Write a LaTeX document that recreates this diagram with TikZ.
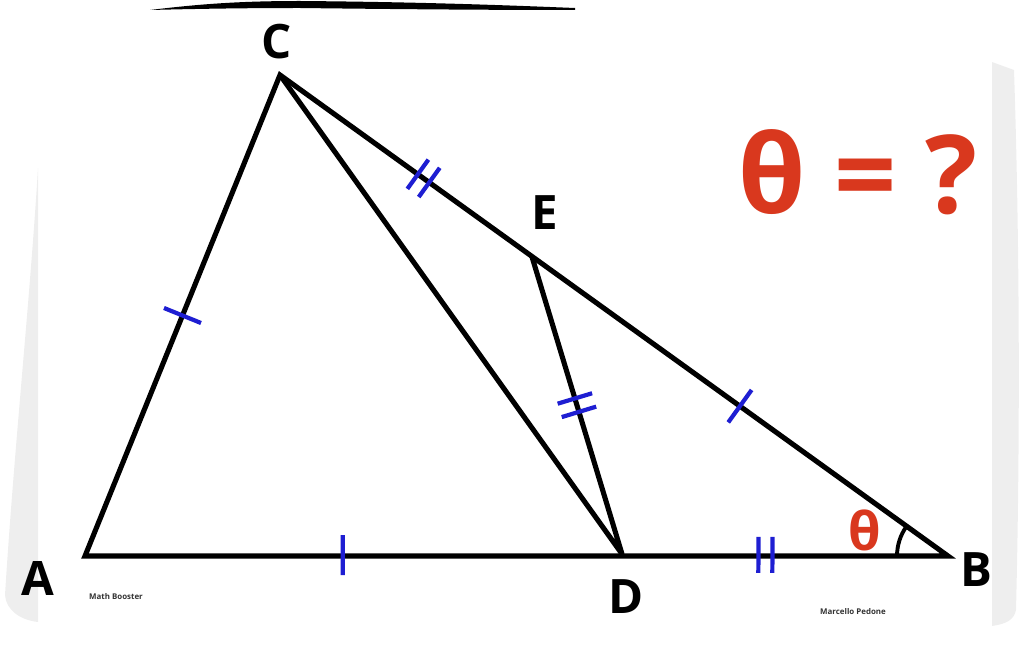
\documentclass[tikz,border=0pt]{standalone}
\usepackage{fontspec}
\setmainfont{Open Sans}
\usepackage{xcolor}
\usetikzlibrary{calc,angles}
\definecolor{ansred}{HTML}{D9381E}
\definecolor{tickblue}{HTML}{1E1ED2}
\definecolor{scangray}{HTML}{EEEEEE}

\begin{document}
\begin{tikzpicture}
        [x=0.02cm,y=-0.02cm,
          side/.style={line width=2.9pt,line join=miter},
          marker/.style={tickblue,line width=2.4pt},
          vertex/.style={font=\fontsize{27}{27}\selectfont\bfseries},
          credit/.style={font=\fontsize{4.5}{5}\selectfont\bfseries,text=black!80}]
        \useasboundingbox (0,0) rectangle (1024,665);
        % scan borders
        \fill[scangray] (38,168) -- (38,622) .. controls (20,620) and (6,610) .. (5,595)
          .. controls (14,450) and (30,300) .. cycle;
        \fill[scangray] (992,62) -- (992,626) .. controls (1006,624) and (1014,620) .. (1016,610)
          .. controls (1020,450) and (1020,250) .. (1014,70) -- cycle;
        \fill (150,10) .. controls (200,4) and (240,1) .. (300,1)
          .. controls (420,2) and (500,5) .. (575,8) -- (575,10)
          .. controls (480,10) and (380,9) .. (300,8) .. controls (240,8) and (190,9) .. cycle;

        \coordinate (A) at (85,556);
        \coordinate (B) at (948,556);
        \coordinate (C) at (280,75);
        \coordinate (D) at (622,554);
        \coordinate (E) at ($(C)!0.377!(B)$);

        \draw[side] (A) -- (B) -- (C) -- cycle;
        \draw[side,line join=round] (C) -- (D) -- (E);
        \pic[draw,line width=2.2pt,angle radius=1.02cm] {angle=C--B--A};

        % equal marks
        \coordinate (m1) at ($(A)!0.5!(C)$);
        \coordinate (m2) at ($(A)!0.48!(D)$);
        \coordinate (m3) at ($(E)!0.5!(B)$);
        \coordinate (m4) at ($(C)!0.57!(E)$);
        \coordinate (m5) at ($(E)!0.5!(D)$);
        \coordinate (m6) at ($(D)!0.44!(B)$);
        \draw[marker] ($(m1)!0.4cm!90:(C)$) -- ($(m1)!0.4cm!-90:(C)$);
        \draw[marker] ($(m2)!0.4cm!90:(D)$) -- ($(m2)!0.4cm!-90:(D)$);
        \draw[marker] ($(m3)!0.4cm!90:(B)$) -- ($(m3)!0.4cm!-90:(B)$);
        \foreach \s in {-0.14cm,0.14cm} {
          \coordinate (p4) at ($(m4)!\s!(E)$);
          \coordinate (p5) at ($(m5)!\s!(D)$);
          \coordinate (p6) at ($(m6)!\s!(B)$);
          \draw[marker] ($(p4)!0.36cm!90:(E)$) -- ($(p4)!0.36cm!-90:(E)$);
          \draw[marker] ($(p5)!0.36cm!90:(D)$) -- ($(p5)!0.36cm!-90:(D)$);
          \draw[marker] ($(p6)!0.36cm!90:(B)$) -- ($(p6)!0.36cm!-90:(B)$);
        }

        \node[vertex] (lA) at (38,578) {A};
        \node[vertex] (lB) at (976,570) {B};
        \node[vertex] (lC) at (277,42) {C};
        \node[vertex] (lD) at (626,597) {D};
        \node[vertex] (lE) at (545,213) {E};
        \node[text=ansred,font=\fontsize{30}{30}\selectfont\bfseries] (th) at (865,530) {θ};
        \node[text=ansred,font=\fontsize{62}{62}\selectfont\bfseries] (q) at (858,172) {θ = ?};
        \node[credit] (mb) at (116,597) {Math Booster};
        \node[credit] (mp) at (853,612) {Marcello Pedone};
      \end{tikzpicture}
\end{document}
